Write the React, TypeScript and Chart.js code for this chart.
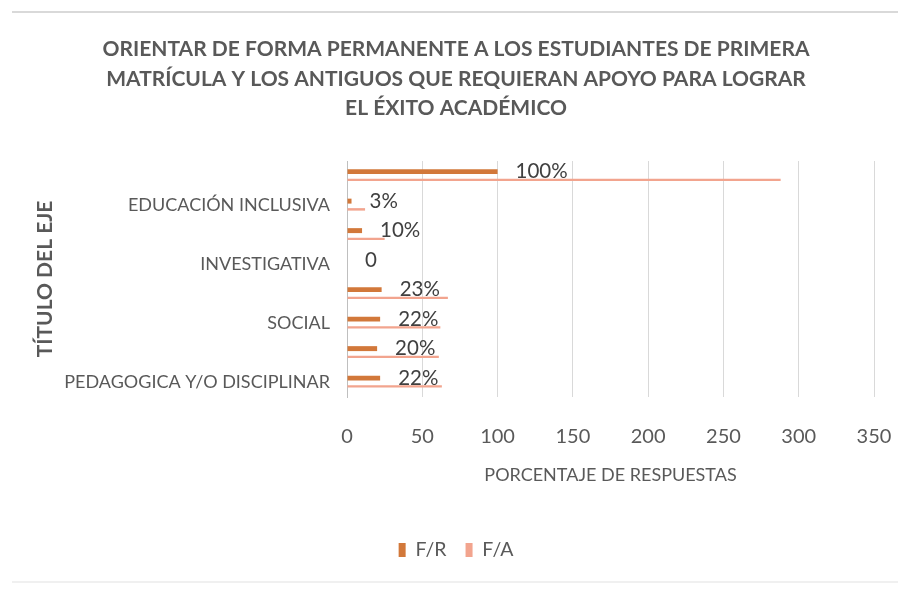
import React, { useEffect, useRef } from "react";
import { Chart, registerables } from "chart.js";

Chart.register(...registerables);

const categories = [
  "",
  "EDUCACIÓN INCLUSIVA",
  "",
  "INVESTIGATIVA",
  "",
  "SOCIAL",
  "",
  "PEDAGOGICA Y/O DISCIPLINAR",
];
const seriesFR = [100, 3, 10, 0, 23, 22, 20, 22];
const seriesFA = [288, 12, 25, 0, 67, 62, 61, 63];
const seriesNames = ["F/R", "F/A"];
const xTicks = [0, 50, 100, 150, 200, 250, 300, 350];
const titleLines = [
  "ORIENTAR DE FORMA PERMANENTE A LOS ESTUDIANTES DE PRIMERA",
  "MATRÍCULA Y LOS ANTIGUOS QUE REQUIERAN APOYO PARA LOGRAR",
  "EL ÉXITO ACADÉMICO",
];
const xTitle = "PORCENTAJE DE RESPUESTAS";
const yTitle = "TÍTULO DEL EJE";

const FONT = "Lato, 'Open Sans', sans-serif";
const GREY = "#595959";

const frameLines = {
  id: "frameLines",
  beforeDraw(chart: any) {
    const ctx = chart.ctx;
    ctx.save();
    ctx.fillStyle = "#ffffff";
    ctx.fillRect(0, 0, chart.width, chart.height);
    ctx.fillStyle = "#d9d9d9";
    ctx.fillRect(12, 11, chart.width - 24, 2);
    ctx.fillStyle = "#f0f0f0";
    ctx.fillRect(12, 581, chart.width - 24, 2);
    ctx.restore();
  },
};

const valueLabels = {
  id: "valueLabels",
  afterDatasetsDraw(chart: any) {
    const ctx = chart.ctx;
    const meta = chart.getDatasetMeta(0);
    const data = chart.data.datasets[0].data as number[];
    ctx.save();
    ctx.font = `20.5px ${FONT}`;
    ctx.fillStyle = "#404040";
    ctx.textAlign = "left";
    ctx.textBaseline = "middle";
    meta.data.forEach((el: any, i: number) => {
      const v = data[i];
      const txt = v === 0 ? "0" : `${v}%`;
      ctx.fillText(txt, el.x + 18, el.y);
    });
    ctx.restore();
  },
};

export default function App() {
  const ref = useRef<HTMLCanvasElement>(null);
  useEffect(() => {
    if (!ref.current) return;
    const chart = new Chart(ref.current, {
      type: "bar",
      data: {
        labels: categories,
        datasets: [
          {
            label: seriesNames[0],
            data: seriesFR,
            backgroundColor: "#d2783a",
            categoryPercentage: 0.56,
            barPercentage: 0.6,
          },
          {
            label: seriesNames[1],
            data: seriesFA,
            backgroundColor: "#f2a48e",
            categoryPercentage: 0.56,
            barPercentage: 0.3,
          },
        ],
      },
      options: {
        indexAxis: "y",
        animation: false,
        responsive: false,
        devicePixelRatio: 1,
        layout: { padding: { left: 38, right: 36, top: 0, bottom: 20.25 } },
        plugins: {
          title: {
            display: true,
            text: titleLines,
            color: GREY,
            font: { family: FONT, size: 21, weight: "bold", lineHeight: "29.5px" },
            padding: { top: 34.75, bottom: 37.75 },
          },
          legend: {
            position: "bottom",
            labels: {
              color: GREY,
              font: { family: FONT, size: 19.5 },
              boxWidth: 7,
              boxHeight: 14,
              padding: 19,
            },
          },
          tooltip: { enabled: false },
        },
        scales: {
          x: {
            min: xTicks[0],
            max: xTicks[xTicks.length - 1],
            afterBuildTicks(scale: any) {
              scale.ticks = xTicks.map((v) => ({ value: v }));
            },
            ticks: {
              color: GREY,
              font: { family: FONT, size: 20 },
              padding: 0,
            },
            grid: {
              color: "#d9d9d9",
              drawTicks: true,
              tickLength: 28,
              tickColor: "rgba(0,0,0,0)",
            },
            border: { display: false },
            title: {
              display: true,
              text: xTitle,
              color: GREY,
              font: { family: FONT, size: 18 },
              padding: { top: 0, bottom: 35.5 },
            },
            afterFit(scale: any) {
              scale.height = 124.25;
            },
          },
          y: {
            ticks: {
              color: GREY,
              font: { family: FONT, size: 18 },
              padding: 17,
              autoSkip: false,
            },
            grid: { display: false, drawTicks: false },
            border: { display: true, color: "#bfbfbf", width: 1 },
            title: {
              display: true,
              text: yTitle,
              color: GREY,
              font: { family: FONT, size: 21, weight: "bold", lineHeight: 1 },
              padding: { top: -3.5, bottom: 0 },
            },
            afterFit(scale: any) {
              scale.width = 309;
            },
          },
        },
      },
      plugins: [frameLines, valueLabels],
    });
    return () => chart.destroy();
  }, []);
  return (
    <div style={{ position: "fixed", left: 0, top: 0, width: 910, height: 590, background: "#fff" }}>
      <canvas ref={ref} width={910} height={590} style={{ width: 910, height: 590 }} />
    </div>
  );
}
